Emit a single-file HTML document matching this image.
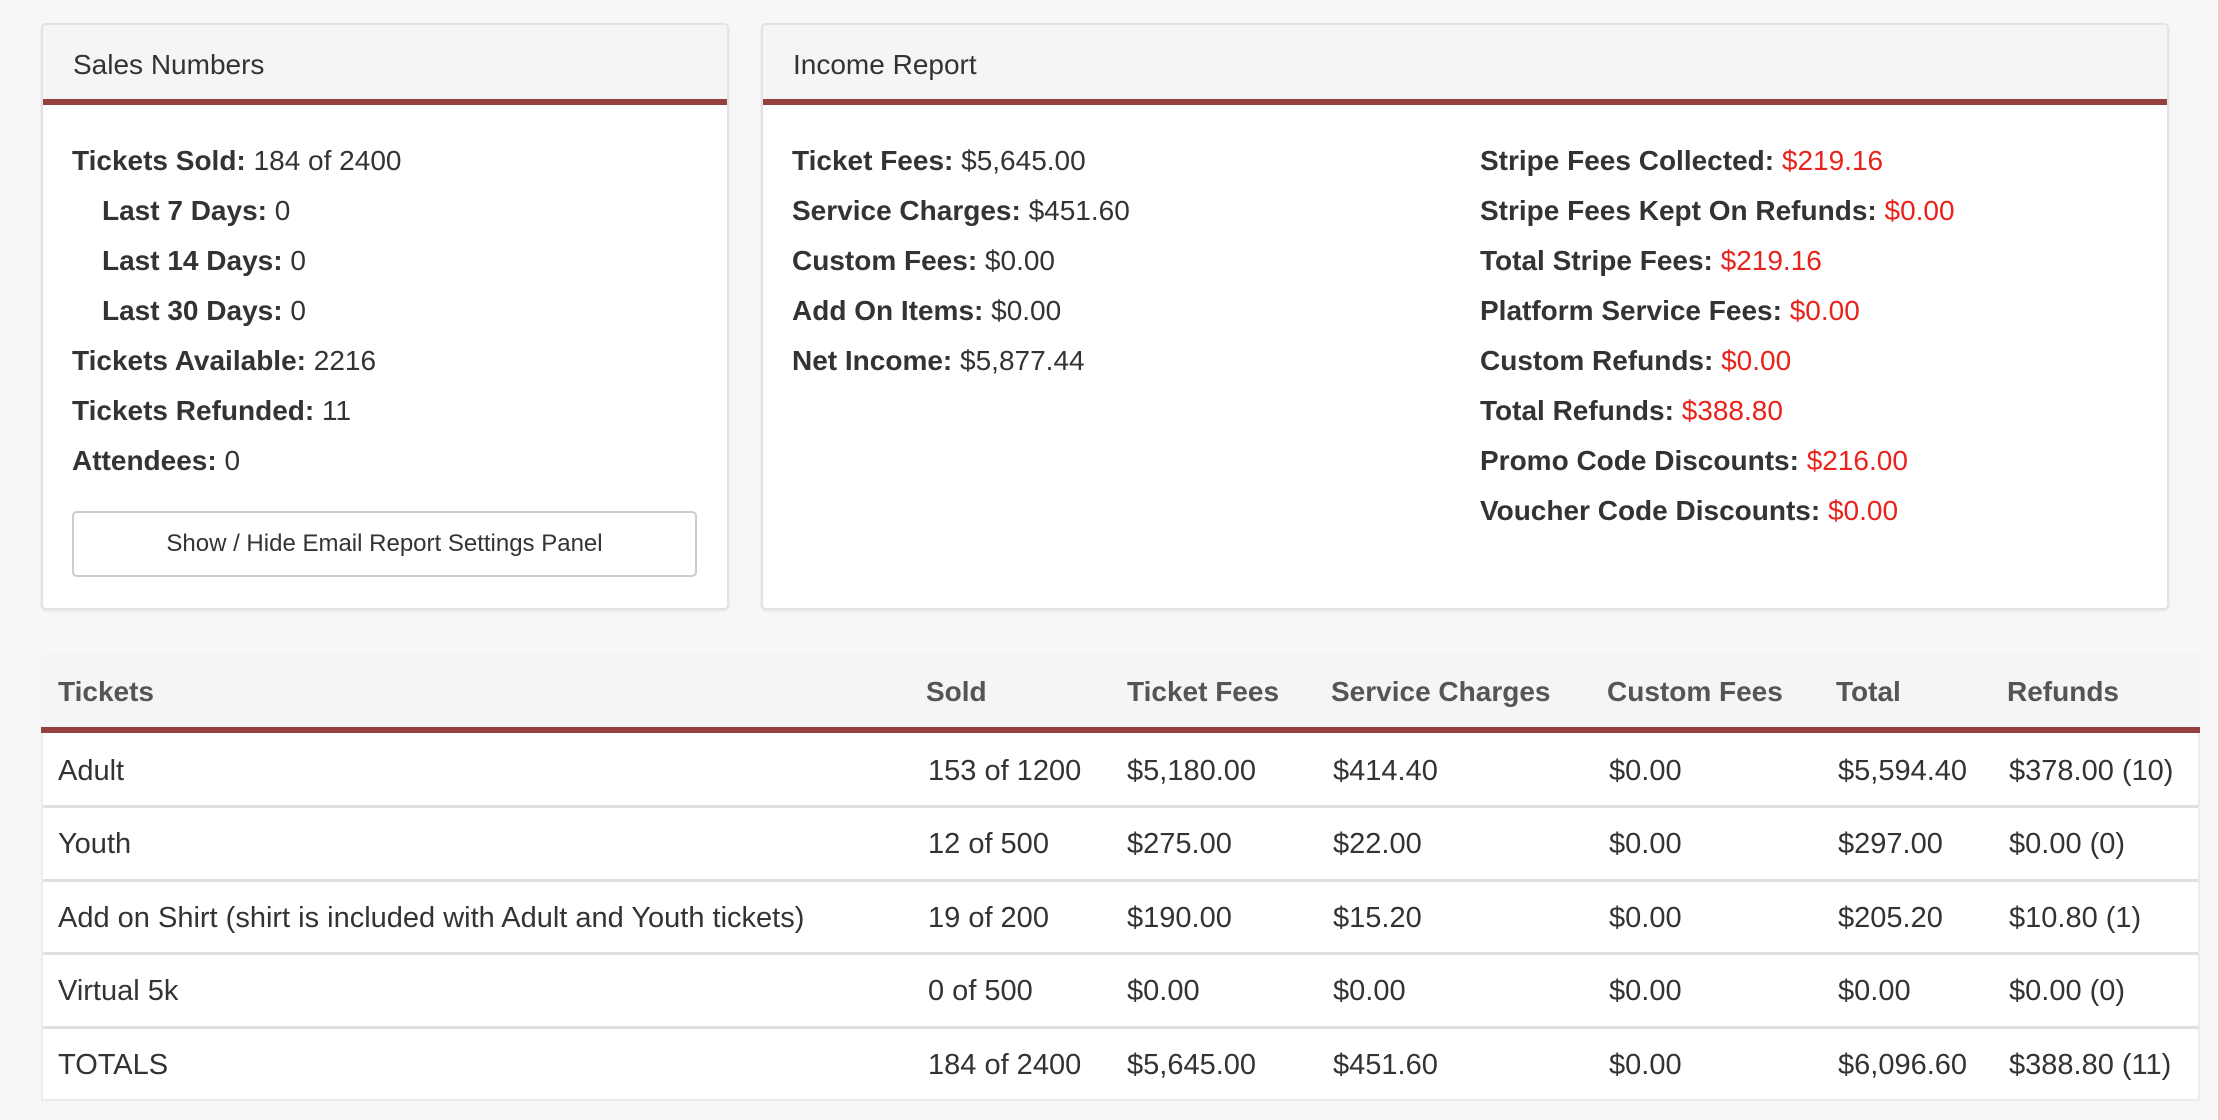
<!DOCTYPE html>
<html><head><meta charset="utf-8"><style>
*{margin:0;padding:0;box-sizing:border-box}
body{width:2218px;height:1120px;background:#f7f7f7;font-family:"Liberation Sans",Arial,sans-serif;color:#333;position:relative;overflow:hidden}
.panel{position:absolute;background:#fff;border:2px solid #e2e2e2;border-radius:5px;box-shadow:0 1px 2px rgba(0,0,0,.08)}
.ph{position:absolute;left:0;right:0;top:0;height:80px;background:#f5f5f5;border-bottom:6px solid #973f3d;border-radius:4px 4px 0 0}
.ph span{position:absolute;left:30px;top:24px;font-size:28px;color:#333}
.t{position:absolute;font-size:28px;white-space:nowrap;line-height:30px;margin-top:1px}
.t b{font-weight:bold}
.r{color:#e8231b}
.btn{position:absolute;left:72px;top:511px;width:625px;height:66px;border:2px solid #ccc;border-radius:5px;background:#fff;font-size:24px;text-align:center;line-height:62px;color:#333}
.tbl{position:absolute;left:41px;top:653px;width:2159px;height:448px;background:#fff;border:2px solid #ececec}
.th{position:absolute;left:-2px;right:-2px;top:-2px;height:80px;background:#f5f5f5;border-bottom:6px solid #973f3d}
.hc{position:absolute;font-size:28px;font-weight:bold;color:#555;top:23px}
.row{position:absolute;left:0;right:0;height:74px;border-top:3px solid #e0e0e0}
.c{position:absolute;font-size:29px;top:20px;white-space:nowrap}
</style></head><body>
<div class="panel" style="left:41px;top:23px;width:688px;height:587px">
<div class="ph"><span>Sales Numbers</span></div>
</div>
<div class="t" style="left:72px;top:145px"><b>Tickets Sold:</b> 184 of 2400</div>
<div class="t" style="left:102px;top:195px"><b>Last 7 Days:</b> 0</div>
<div class="t" style="left:102px;top:245px"><b>Last 14 Days:</b> 0</div>
<div class="t" style="left:102px;top:295px"><b>Last 30 Days:</b> 0</div>
<div class="t" style="left:72px;top:345px"><b>Tickets Available:</b> 2216</div>
<div class="t" style="left:72px;top:395px"><b>Tickets Refunded:</b> 11</div>
<div class="t" style="left:72px;top:445px"><b>Attendees:</b> 0</div>
<div class="btn">Show / Hide Email Report Settings Panel</div>

<div class="panel" style="left:761px;top:23px;width:1408px;height:587px">
<div class="ph"><span>Income Report</span></div>
</div>
<div class="t" style="left:792px;top:145px"><b>Ticket Fees:</b> $5,645.00</div>
<div class="t" style="left:792px;top:195px"><b>Service Charges:</b> $451.60</div>
<div class="t" style="left:792px;top:245px"><b>Custom Fees:</b> $0.00</div>
<div class="t" style="left:792px;top:295px"><b>Add On Items:</b> $0.00</div>
<div class="t" style="left:792px;top:345px"><b>Net Income:</b> $5,877.44</div>
<div class="t" style="left:1480px;top:145px"><b>Stripe Fees Collected:</b> <span class="r">$219.16</span></div>
<div class="t" style="left:1480px;top:195px"><b>Stripe Fees Kept On Refunds:</b> <span class="r">$0.00</span></div>
<div class="t" style="left:1480px;top:245px"><b>Total Stripe Fees:</b> <span class="r">$219.16</span></div>
<div class="t" style="left:1480px;top:295px"><b>Platform Service Fees:</b> <span class="r">$0.00</span></div>
<div class="t" style="left:1480px;top:345px"><b>Custom Refunds:</b> <span class="r">$0.00</span></div>
<div class="t" style="left:1480px;top:395px"><b>Total Refunds:</b> <span class="r">$388.80</span></div>
<div class="t" style="left:1480px;top:445px"><b>Promo Code Discounts:</b> <span class="r">$216.00</span></div>
<div class="t" style="left:1480px;top:495px"><b>Voucher Code Discounts:</b> <span class="r">$0.00</span></div>

<div class="tbl">
<div class="th">
<div class="hc" style="left:17px">Tickets</div>
<div class="hc" style="left:885px">Sold</div>
<div class="hc" style="left:1086px">Ticket Fees</div>
<div class="hc" style="left:1290px">Service Charges</div>
<div class="hc" style="left:1566px">Custom Fees</div>
<div class="hc" style="left:1795px">Total</div>
<div class="hc" style="left:1966px">Refunds</div>
</div>
<div class="row" style="top:77px;border-top:3px solid transparent">
<div class="c" style="left:15px">Adult</div><div class="c" style="left:885px">153 of 1200</div><div class="c" style="left:1084px">$5,180.00</div><div class="c" style="left:1290px">$414.40</div><div class="c" style="left:1566px">$0.00</div><div class="c" style="left:1795px">$5,594.40</div><div class="c" style="left:1966px">$378.00 (10)</div></div>
<div class="row" style="top:150px">
<div class="c" style="left:15px">Youth</div><div class="c" style="left:885px">12 of 500</div><div class="c" style="left:1084px">$275.00</div><div class="c" style="left:1290px">$22.00</div><div class="c" style="left:1566px">$0.00</div><div class="c" style="left:1795px">$297.00</div><div class="c" style="left:1966px">$0.00 (0)</div></div>
<div class="row" style="top:224px">
<div class="c" style="left:15px">Add on Shirt (shirt is included with Adult and Youth tickets)</div><div class="c" style="left:885px">19 of 200</div><div class="c" style="left:1084px">$190.00</div><div class="c" style="left:1290px">$15.20</div><div class="c" style="left:1566px">$0.00</div><div class="c" style="left:1795px">$205.20</div><div class="c" style="left:1966px">$10.80 (1)</div></div>
<div class="row" style="top:297px">
<div class="c" style="left:15px">Virtual 5k</div><div class="c" style="left:885px">0 of 500</div><div class="c" style="left:1084px">$0.00</div><div class="c" style="left:1290px">$0.00</div><div class="c" style="left:1566px">$0.00</div><div class="c" style="left:1795px">$0.00</div><div class="c" style="left:1966px">$0.00 (0)</div></div>
<div class="row" style="top:371px">
<div class="c" style="left:15px">TOTALS</div><div class="c" style="left:885px">184 of 2400</div><div class="c" style="left:1084px">$5,645.00</div><div class="c" style="left:1290px">$451.60</div><div class="c" style="left:1566px">$0.00</div><div class="c" style="left:1795px">$6,096.60</div><div class="c" style="left:1966px">$388.80 (11)</div></div>
</div>
</body></html>
